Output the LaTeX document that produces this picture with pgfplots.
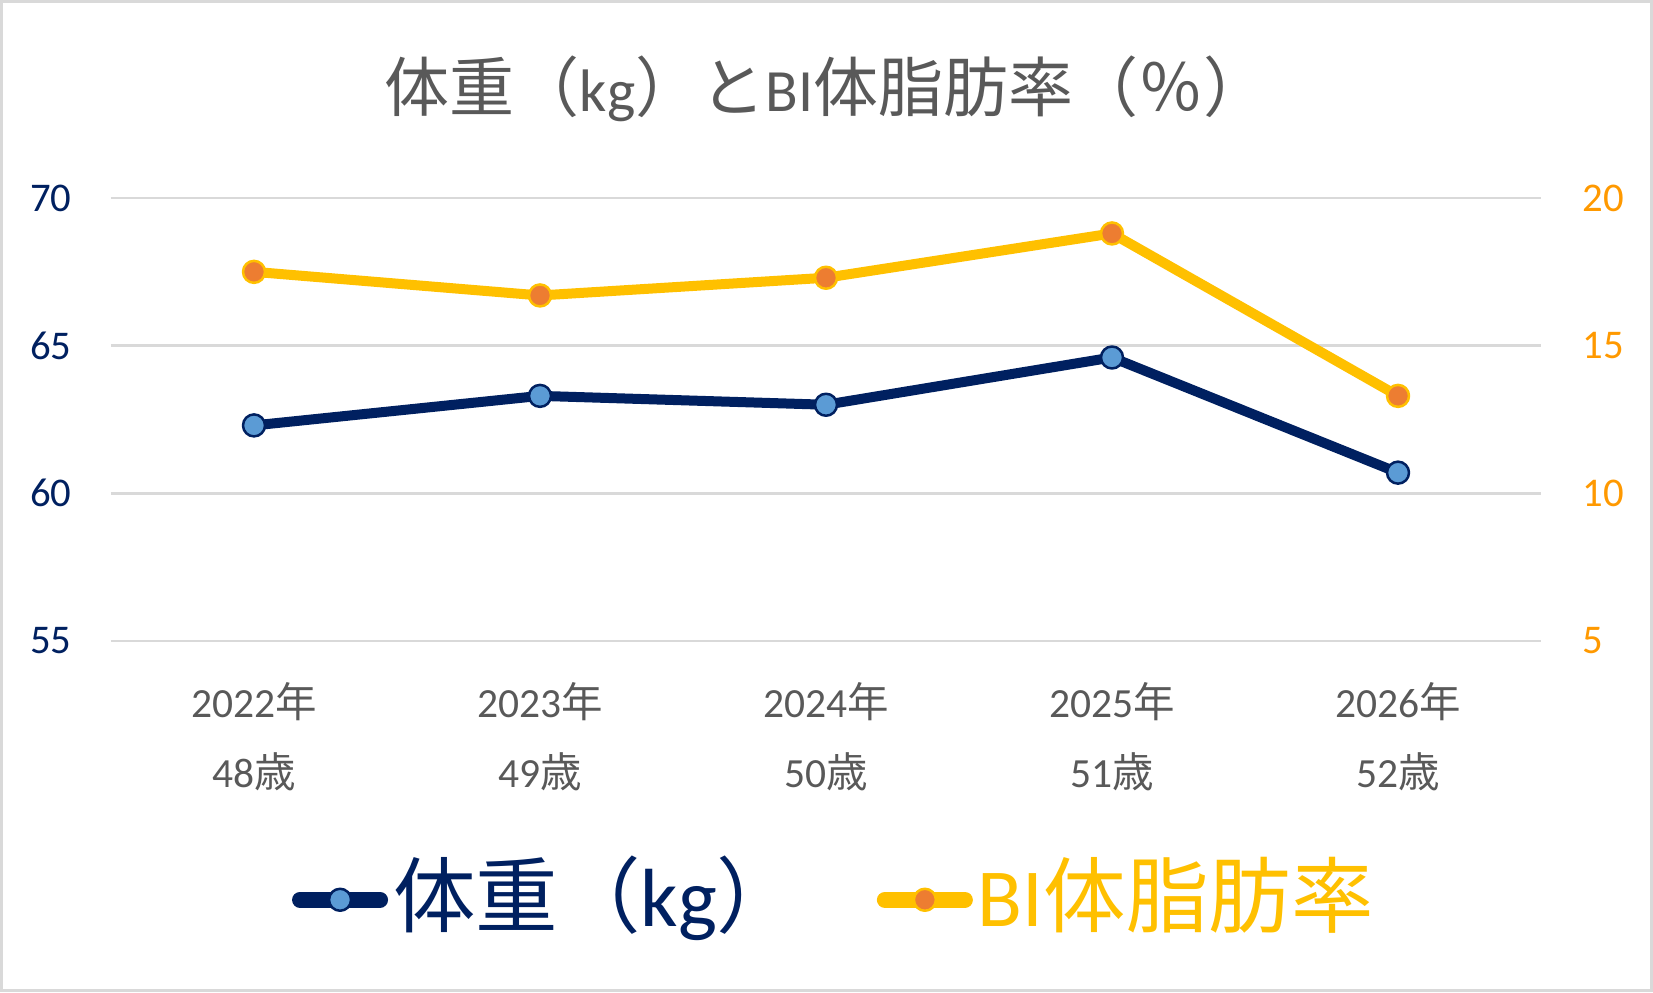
\documentclass[border=0pt]{standalone}
\usepackage{fontspec}
\setmainfont{Carlito}
\newfontfamily\cjk{Noto Sans CJK JP}
\usepackage{pgfplots}
\pgfplotsset{compat=1.18}
\definecolor{navy}{HTML}{002060}
\definecolor{gold}{HTML}{FFC000}
\definecolor{orangefill}{HTML}{ED7D31}
\definecolor{bluefill}{HTML}{5B9BD5}
\definecolor{tickorange}{HTML}{FF9900}
\definecolor{textgray}{HTML}{595959}
\definecolor{gridgray}{HTML}{D9D9D9}
\pgfplotsset{
  wstyle/.style={color=navy, line width=4pt, line join=round, mark=*, mark size=4.4pt,
    mark options={fill=bluefill, draw=navy, line width=1pt}},
  fstyle/.style={color=gold, line width=4pt, line join=round, mark=*, mark size=4.4pt,
    mark options={fill=orangefill, draw=gold, line width=1pt}},
  common/.style={at={(44.4pt,140.4pt)}, anchor=south west,
    scale only axis, width=572pt, height=177.2pt,
    xmin=-0.5, xmax=4.5,
    axis line style={draw=none},
    major tick length=0pt,
    clip=false},
}
\begin{document}
\begin{tikzpicture}
\useasboundingbox (0,0) rectangle (661.2pt,396.8pt);
\draw[gridgray, line width=1.2pt] (0.6pt,0.6pt) rectangle (660.6pt,396.2pt);
\node[anchor=base, text=textgray, inner sep=0pt] at (330.6pt,352pt)
  {\fontsize{26pt}{30pt}\selectfont{\cjk 体重（}{\fontsize{24pt}{28pt}\selectfont kg}{\cjk ）と}{\fontsize{24pt}{28pt}\selectfont BI}{\cjk 体脂肪率（％）}};
\begin{axis}[common,
  ymin=55, ymax=70,
  xtick={0,1,2,3,4},
  xticklabels={{2022{\cjk 年}\\48{\cjk 歳}},{2023{\cjk 年}\\49{\cjk 歳}},{2024{\cjk 年}\\50{\cjk 歳}},{2025{\cjk 年}\\51{\cjk 歳}},{2026{\cjk 年}\\52{\cjk 歳}}},
  ytick={55,60,65,70}, yticklabels={55,60,65,70},
  ymajorgrids, grid style={gridgray, line width=1pt},
  yticklabel style={font=\fontsize{16.3pt}{18pt}\selectfont, text=navy, anchor=east, inner sep=0pt, xshift=-15.6pt},
  xticklabel style={font=\fontsize{16.6pt}{28pt}\selectfont, text=textgray, align=center, anchor=north, inner sep=0pt, yshift=-16.4pt},
]
\addplot[wstyle] coordinates {(0,62.3) (1,63.3) (2,63.0) (3,64.6) (4,60.7)};
\end{axis}
\begin{axis}[common,
  ymin=5, ymax=20,
  hide x axis,
  ytick={5,10,15,20}, yticklabels={5,10,15,20},
  yticklabel pos=right,
  yticklabel style={font=\fontsize{16.3pt}{18pt}\selectfont, text=tickorange, anchor=west, inner sep=0pt, xshift=16.4pt},
  legend columns=2,
  legend cell align=left,
  legend style={draw=none, fill=none, at={(0.5065,-0.57)}, anchor=center,
    font=\fontsize{33pt}{40pt}\selectfont,
    nodes={inner sep=2pt},
    /tikz/every even column/.append style={column sep=29pt}},
  legend image code/.code={\draw[mark repeat=2, mark phase=2, #1, line width=6.4pt, line cap=round] plot coordinates {(3.2pt,-2.5pt) (19.2pt,-2.5pt) (35.2pt,-2.5pt)};},
]
\addlegendimage{wstyle}
\addlegendentry{\textcolor{navy}{{\cjk 体重（}kg{\cjk ）}}}
\addplot[fstyle] coordinates {(0,17.5) (1,16.7) (2,17.3) (3,18.8) (4,13.3)};
\addlegendentry{\textcolor{gold}{BI{\cjk 体脂肪率}}}
\end{axis}
\end{tikzpicture}
\end{document}
